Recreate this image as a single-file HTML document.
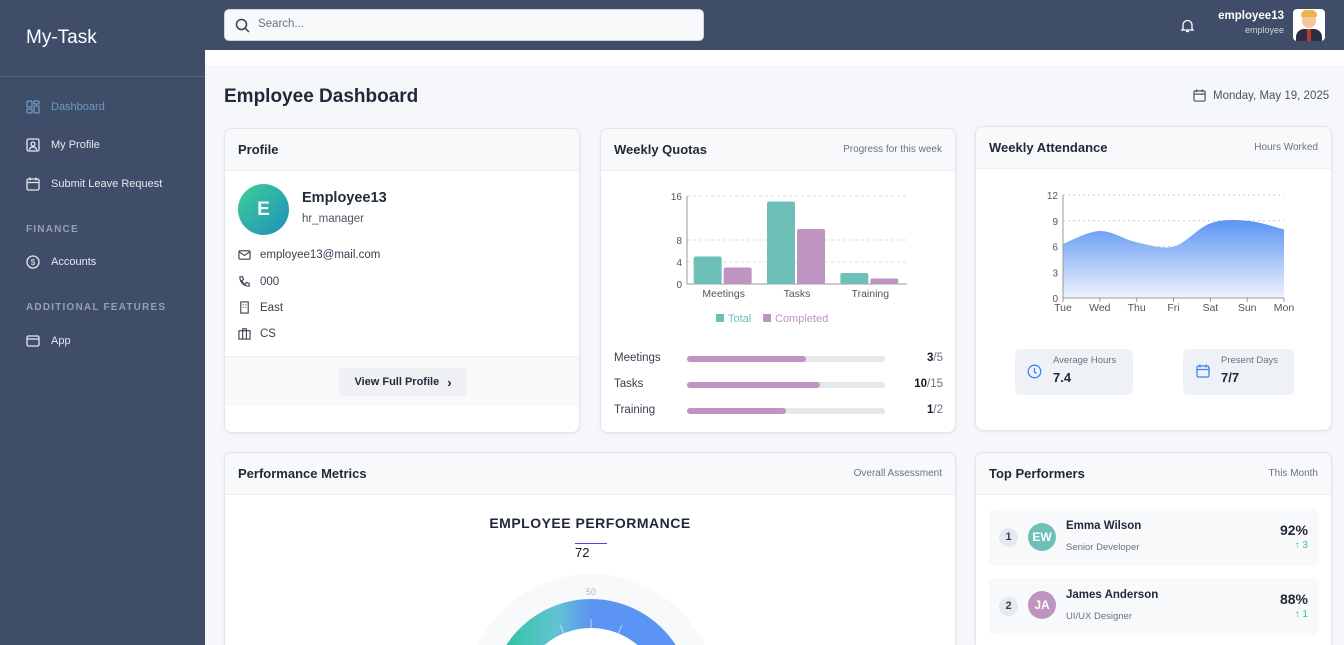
<!DOCTYPE html>
<html style="width:1344px;height:645px;overflow:hidden"><head><meta charset="utf-8">
<style>
*{box-sizing:border-box;margin:0;padding:0}
body{width:1344px;height:645px;overflow:hidden;font-family:"Liberation Sans",sans-serif;background:#f5f7fa;position:relative;color:#1f2937}
.abs{position:absolute}
#sidebar{left:0;top:0;width:205px;height:645px;background:#3f4d68}
#topbar{left:205px;top:0;width:1139px;height:50px;background:#3f4d68}
.nav{position:absolute;left:26px;font-size:11px;color:#e5e9f0;display:flex;align-items:center;gap:11px}
.nav svg{width:14px;height:14px}
.sec{position:absolute;left:26px;font-size:10px;letter-spacing:1.2px;color:#96a0b3;font-weight:bold}
.card{position:absolute;background:#fff;border:1px solid #e2e6ec;border-radius:8px;overflow:hidden;box-shadow:0 1px 3px rgba(0,0,0,.06)}
.ch{height:42px;background:#f8f9fb;border-bottom:1px solid #eceff3;display:flex;justify-content:space-between;align-items:center;padding:0 13px}
.ch b{font-size:13px;color:#1f2937}
.ch span{font-size:10px;color:#6b7280}
.row{position:absolute;left:13px;font-size:11.5px;color:#374151;display:flex;align-items:center;gap:9px}
.qrow{position:absolute;left:13px;width:329px;font-size:11.5px;color:#374151}
.qbar{position:absolute;left:73px;top:4px;width:198px;height:6px;border-radius:3px;background:#e5e7eb}
.qbar i{display:block;height:6px;border-radius:3px;background:#c094c0}
.qv{position:absolute;right:0;top:0;color:#6b7280}
.qv b{color:#111827}
.perf{position:absolute;left:13px;width:330px;height:57px;background:#f8f9fb;border-radius:6px}
</style></head><body>
<div id="sidebar" class="abs">
 <div class="abs" style="left:26px;top:27px;font-size:19px;color:#fff">My-Task</div>
 <div class="abs" style="left:0;top:76px;width:205px;height:1px;background:#55627c"></div>
 <div class="nav" style="top:100px;color:#6b9bc3"><svg viewBox="0 0 14 14" fill="none" stroke="#6b9bc3" stroke-width="1.3"><rect x="1" y="1" width="5" height="6" rx="1"/><rect x="8" y="1" width="5" height="3" rx="1"/><rect x="1" y="9" width="5" height="4" rx="1"/><rect x="8" y="6" width="5" height="7" rx="1"/></svg>Dashboard</div>
 <div class="nav" style="top:138px"><svg viewBox="0 0 14 14" fill="none" stroke="#e5e9f0" stroke-width="1.3"><rect x="1" y="1" width="12" height="12" rx="1.5"/><circle cx="7" cy="6" r="2"/><path d="M3.5 12c0-2 1.5-3 3.5-3s3.5 1 3.5 3"/></svg>My Profile</div>
 <div class="nav" style="top:177px"><svg viewBox="0 0 14 14" fill="none" stroke="#e5e9f0" stroke-width="1.3"><rect x="1" y="2" width="12" height="11" rx="1.5"/><path d="M1 5.5h12M4 0.5v3M10 0.5v3"/></svg>Submit Leave Request</div>
 <div class="sec" style="top:224px">FINANCE</div>
 <div class="nav" style="top:255px"><svg viewBox="0 0 14 14" fill="none" stroke="#e5e9f0" stroke-width="1.3"><circle cx="7" cy="7" r="6"/><text x="7" y="10" font-size="8" text-anchor="middle" fill="#e5e9f0" stroke="none">$</text></svg>Accounts</div>
 <div class="sec" style="top:302px">ADDITIONAL FEATURES</div>
 <div class="nav" style="top:334px"><svg viewBox="0 0 14 14" fill="none" stroke="#e5e9f0" stroke-width="1.3"><rect x="1" y="2" width="12" height="10" rx="1.5"/><path d="M1 5h12"/></svg>App</div>
</div>
<div id="topbar" class="abs">
 <div class="abs" style="left:19px;top:9px;width:480px;height:32px;background:#f8f9fb;border-radius:5px;border:1px solid #d1d5db">
  <svg class="abs" style="left:10px;top:8px" width="15" height="15" viewBox="0 0 15 15" fill="none" stroke="#374151" stroke-width="1.5"><circle cx="6.5" cy="6.5" r="5"/><path d="M10 10l4 4"/></svg>
  <span class="abs" style="left:33px;top:8px;font-size:11.5px;color:#6b7280">Search...</span>
 </div>
 <svg class="abs" style="left:975px;top:18px" width="15" height="15" viewBox="0 0 15 15" fill="none" stroke="#fff" stroke-width="1.3"><path d="M3 11V7a4.5 4.5 0 019 0v4l1 1H2z"/><path d="M6 13.5h3"/></svg>
 <div class="abs" style="right:60px;top:10px;text-align:right;color:#fff"><div style="font-size:11.5px;font-weight:bold">employee13</div><div style="font-size:9px;color:#d1d5db;margin-top:3px">employee</div></div>
 <div class="abs" style="left:1088px;top:9px;width:32px;height:32px;border-radius:4px;background:#fff;overflow:hidden">
  <div class="abs" style="left:9px;top:3px;width:14px;height:16px;border-radius:7px;background:#f2c79b"></div>
  <div class="abs" style="left:8px;top:1px;width:16px;height:7px;border-radius:7px 7px 2px 2px;background:#e9b44c"></div>
  <div class="abs" style="left:3px;top:20px;width:26px;height:12px;border-radius:8px 8px 0 0;background:#2b2f45"></div>
  <div class="abs" style="left:14px;top:20px;width:4px;height:12px;background:#c0392b"></div>
 </div>
</div>
<div class="abs" style="left:205px;top:50px;width:1139px;height:15px;background:#fff"></div>
<div class="abs" style="left:224px;top:86px;font-size:19px;font-weight:bold;color:#1f2937">Employee Dashboard</div>
<div class="abs" style="left:1193px;top:89px;font-size:11.5px;color:#4b5563;display:flex;gap:7px;align-items:center"><svg width="13" height="13" viewBox="0 0 14 14" fill="none" stroke="#4b5563" stroke-width="1.3"><rect x="1" y="2" width="12" height="11" rx="1.5"/><path d="M1 5.5h12M4 0.5v3M10 0.5v3"/></svg>Monday, May 19, 2025</div>

<!-- Profile -->
<div class="card" style="left:224px;top:128px;width:356px;height:305px">
 <div class="ch"><b>Profile</b></div>
 <div class="abs" style="left:13px;top:55px;width:51px;height:51px;border-radius:50%;background:linear-gradient(135deg,#3ecf9a,#1f8fb8);color:#fff;font-size:19px;font-weight:bold;display:flex;align-items:center;justify-content:center">E</div>
 <div class="abs" style="left:77px;top:61px;font-size:14.5px;font-weight:bold">Employee13</div>
 <div class="abs" style="left:77px;top:84px;font-size:11.5px;color:#4b5563">hr_manager</div>
 <div class="row" style="top:119px"><svg width="13" height="13" viewBox="0 0 14 14" fill="none" stroke="#374151" stroke-width="1.2"><rect x="1" y="3" width="12" height="9" rx="1"/><path d="M1 4l6 4 6-4"/></svg>employee13@mail.com</div>
 <div class="row" style="top:146px"><svg width="13" height="13" viewBox="0 0 14 14" fill="none" stroke="#374151" stroke-width="1.2"><path d="M2 2h3l1 3-2 1a8 8 0 004 4l1-2 3 1v3c-6 0-10-4-10-10z"/></svg>000</div>
 <div class="row" style="top:172px"><svg width="13" height="13" viewBox="0 0 14 14" fill="none" stroke="#374151" stroke-width="1.2"><rect x="3" y="1" width="8" height="12"/><path d="M5 4h1M8 4h1M5 7h1M8 7h1"/></svg>East</div>
 <div class="row" style="top:198px"><svg width="13" height="13" viewBox="0 0 14 14" fill="none" stroke="#374151" stroke-width="1.2"><rect x="1" y="4" width="12" height="9"/><path d="M5 4V2h4v2M5 4v9M9 4v9"/></svg>CS</div>
 <div class="abs" style="left:0;top:227px;width:356px;height:50px;background:#f8f9fb;border-top:1px solid #eceff3"></div>
 <div class="abs" style="left:114px;top:239px;width:128px;height:28px;background:#eef0f3;border-radius:4px;font-size:11px;font-weight:bold;color:#1f2937;display:flex;align-items:center;justify-content:center;gap:8px">View Full Profile <span style="font-size:13px">›</span></div>
</div>

<!-- Weekly quotas -->
<div class="card" style="left:600px;top:128px;width:356px;height:305px">
 <div class="ch"><b>Weekly Quotas</b><span>Progress for this week</span></div>
 <svg id="qchart" class="abs" style="left:0;top:0" width="356" height="210"></svg>
 <div class="qrow" style="top:223px">Meetings<div class="qbar"><i style="width:60%"></i></div><span class="qv"><b>3</b>/5</span></div>
 <div class="qrow" style="top:249px">Tasks<div class="qbar"><i style="width:67%"></i></div><span class="qv"><b>10</b>/15</span></div>
 <div class="qrow" style="top:275px">Training<div class="qbar"><i style="width:50%"></i></div><span class="qv"><b>1</b>/2</span></div>
</div>

<!-- Attendance -->
<div class="card" style="left:975px;top:126px;width:357px;height:305px">
 <div class="ch"><b>Weekly Attendance</b><span>Hours Worked</span></div>
 <svg id="achart" class="abs" style="left:0;top:0" width="357" height="200"></svg>
 <div class="abs" style="left:39px;top:222px;width:118px;height:46px;background:#eef2f7;border-radius:5px">
  <svg class="abs" style="left:12px;top:15px" width="15" height="15" viewBox="0 0 15 15" fill="none" stroke="#3b82f6" stroke-width="1.3"><circle cx="7.5" cy="7.5" r="6.3"/><path d="M7.5 4v4l2 1.5"/></svg>
  <div class="abs" style="left:38px;top:6px;font-size:9.5px;color:#6b7280">Average Hours</div>
  <div class="abs" style="left:38px;top:21px;font-size:13px;font-weight:bold">7.4</div>
 </div>
 <div class="abs" style="left:207px;top:222px;width:111px;height:46px;background:#eef2f7;border-radius:5px">
  <svg class="abs" style="left:13px;top:15px" width="14" height="14" viewBox="0 0 14 14" fill="none" stroke="#3b82f6" stroke-width="1.3"><rect x="1" y="2" width="12" height="11" rx="1.5"/><path d="M1 5.5h12M4 0.5v3M10 0.5v3"/></svg>
  <div class="abs" style="left:38px;top:6px;font-size:9.5px;color:#6b7280">Present Days</div>
  <div class="abs" style="left:38px;top:21px;font-size:13px;font-weight:bold">7/7</div>
 </div>
</div>

<!-- Performance -->
<div class="card" style="left:224px;top:452px;width:732px;height:193px;border-bottom:none;border-radius:8px 8px 0 0">
 <div class="ch"><b>Performance Metrics</b><span>Overall Assessment</span></div>
 <div class="abs" style="left:0;top:62px;width:730px;text-align:center;font-size:14px;font-weight:bold;letter-spacing:.5px;color:#1f2937">EMPLOYEE PERFORMANCE</div>
 <div class="abs" style="left:350px;top:90px;width:32px;height:1px;background:#4f46e5"></div>
 <div class="abs" style="left:350px;top:92px;font-size:13px;color:#111827">72</div>
 <svg class="abs" style="left:0;top:0" width="730" height="192">
  <defs><linearGradient id="gg" x1="0" x2="1"><stop offset="0" stop-color="#34c3a5"/><stop offset=".3" stop-color="#62c3d4"/><stop offset=".5" stop-color="#5b94f2"/><stop offset="1" stop-color="#5b94f2"/></linearGradient></defs>
  <path d="M252.6 192 A126 126 0 0 1 479.4 192 Z" fill="#f8f9fb"/>
  <path d="M281.3 192 A101 101 0 0 1 450.7 192 Z" fill="url(#gg)"/>
  <path d="M319.5 192 A72 72 0 0 1 412.5 192 Z" fill="#fff"/>
  <g stroke="#ffffff" stroke-opacity=".6" stroke-width="1">
   <line x1="366" y1="166" x2="366" y2="176"/><line x1="335" y1="172" x2="339" y2="181"/><line x1="397" y1="172" x2="393" y2="181"/>
  </g>
  <text x="366" y="142" font-size="9" fill="#b0b7c3" text-anchor="middle" font-family="Liberation Sans">50</text>
 </svg>
</div>

<!-- Top performers -->
<div class="card" style="left:975px;top:452px;width:357px;height:193px;border-bottom:none;border-radius:8px 8px 0 0">
 <div class="ch"><b>Top Performers</b><span>This Month</span></div>
 <div class="perf" style="top:56px">
  <div class="abs" style="left:10px;top:19px;width:19px;height:19px;border-radius:50%;background:#e5e9f0;font-size:11px;font-weight:bold;color:#374151;text-align:center;line-height:19px">1</div>
  <div class="abs" style="left:39px;top:14px;width:28px;height:28px;border-radius:50%;background:#6dbfb8;color:#fff;font-size:12px;font-weight:bold;text-align:center;line-height:28px">EW</div>
  <div class="abs" style="left:77px;top:11px;font-size:11.5px;font-weight:bold">Emma Wilson</div>
  <div class="abs" style="left:77px;top:33px;font-size:9.5px;color:#6b7280">Senior Developer</div>
  <div class="abs" style="right:11px;top:13px;font-size:14px;font-weight:bold">92%</div>
  <div class="abs" style="right:11px;top:31px;font-size:10px;color:#34c38f">↑ 3</div>
 </div>
 <div class="perf" style="top:125px">
  <div class="abs" style="left:10px;top:19px;width:19px;height:19px;border-radius:50%;background:#e5e9f0;font-size:11px;font-weight:bold;color:#374151;text-align:center;line-height:19px">2</div>
  <div class="abs" style="left:39px;top:13px;width:28px;height:28px;border-radius:50%;background:#c094c0;color:#fff;font-size:12px;font-weight:bold;text-align:center;line-height:28px">JA</div>
  <div class="abs" style="left:77px;top:11px;font-size:11.5px;font-weight:bold">James Anderson</div>
  <div class="abs" style="left:77px;top:33px;font-size:9.5px;color:#6b7280">UI/UX Designer</div>
  <div class="abs" style="right:11px;top:13px;font-size:14px;font-weight:bold">88%</div>
  <div class="abs" style="right:11px;top:31px;font-size:10px;color:#34c38f">↑ 1</div>
 </div>
</div>

<script>
const NS="http://www.w3.org/2000/svg";
const quotaCategories=["Meetings","Tasks","Training"];
const quotaTotal=[5,15,2];
const quotaCompleted=[3,10,1];
const quotaTicks=[0,4,8,16];
const attDays=["Tue","Wed","Thu","Fri","Sat","Sun","Mon"];
const attHours=[6.3,7.8,6.5,6.0,8.7,9.0,8.0];
const attTicks=[0,3,6,9,12];

function mk(p,tag,attrs,txt){const e=document.createElementNS(NS,tag);for(const k in attrs)e.setAttribute(k,attrs[k]);if(txt!==undefined)e.textContent=txt;p.appendChild(e);return e;}

(function(){
 const s=document.getElementById('qchart');
 const x0=86,x1=306,yb=155,yt=67,max=16;
 const y=v=>yb-(v/max)*(yb-yt);
 const band=(x1-x0)/quotaCategories.length;
 quotaTicks.forEach(t=>{
  if(t>0)mk(s,'line',{x1:x0,x2:x1,y1:y(t),y2:y(t),stroke:'#ddd','stroke-dasharray':'3 3'});
  mk(s,'text',{x:x0-5,y:y(t)+4,'font-size':10,'text-anchor':'end',fill:'#555','font-family':'Liberation Sans'},t);
 });
 mk(s,'line',{x1:x0,x2:x0,y1:yt,y2:yb,stroke:'#999'});
 mk(s,'line',{x1:x0,x2:x1,y1:yb,y2:yb,stroke:'#999'});
 quotaCategories.forEach((c,i)=>{
  const cx=x0+band*(i+0.5);
  const b1=mk(s,'rect',{x:cx-30,y:y(quotaTotal[i]),width:28,height:yb-y(quotaTotal[i]),fill:'#6dbfb8',rx:2});
  
  
  const b2=mk(s,'rect',{x:cx,y:y(quotaCompleted[i]),width:28,height:yb-y(quotaCompleted[i]),fill:'#c094c0',rx:2});
  
  
  mk(s,'text',{x:cx,y:yb+13,'font-size':10.5,'text-anchor':'middle',fill:'#555','font-family':'Liberation Sans'},c);
 });
 mk(s,'rect',{x:115,y:185,width:8,height:8,fill:'#6dbfb8'});
 mk(s,'text',{x:127,y:193,'font-size':11,fill:'#6dbfb8','font-family':'Liberation Sans'},'Total');
 mk(s,'rect',{x:162,y:185,width:8,height:8,fill:'#c094c0'});
 mk(s,'text',{x:174,y:193,'font-size':11,fill:'#c094c0','font-family':'Liberation Sans'},'Completed');
})();

(function(){
 const s=document.getElementById('achart');
 const x0=87,x1=308,yb=171,yt=68,max=12;
 const y=v=>yb-(v/max)*(yb-yt);
 const x=i=>x0+i*(x1-x0)/(attDays.length-1);
 const defs=mk(s,'defs',{});
 const g=mk(defs,'linearGradient',{id:'ag',x1:0,x2:0,y1:0,y2:1});
 mk(g,'stop',{offset:0,'stop-color':'#5b94f2'});
 mk(g,'stop',{offset:1,'stop-color':'#eef3fe'});
 attTicks.forEach(t=>{
  if(t>0)mk(s,'line',{x1:x0,x2:x1,y1:y(t),y2:y(t),stroke:'#ccc','stroke-dasharray':'2 3'});
  mk(s,'text',{x:x0-5,y:y(t)+4,'font-size':10,'text-anchor':'end',fill:'#555','font-family':'Liberation Sans'},t);
 });
 const pts=attHours.map((v,i)=>[x(i),y(v)]);
 let d='M'+pts[0][0]+','+pts[0][1];
 for(let i=0;i<pts.length-1;i++){
  const p0=pts[Math.max(0,i-1)],p1=pts[i],p2=pts[i+1],p3=pts[Math.min(pts.length-1,i+2)];
  const c1=[p1[0]+(p2[0]-p0[0])/6,p1[1]+(p2[1]-p0[1])/6],c2=[p2[0]-(p3[0]-p1[0])/6,p2[1]-(p3[1]-p1[1])/6];
  d+=' C'+c1+' '+c2+' '+p2;
 }
 const area=mk(s,'path',{d:d+' L'+x1+','+yb+' L'+x0+','+yb+' Z',fill:'url(#ag)'});
 
 
 mk(s,'line',{x1:x0,x2:x0,y1:yt,y2:yb,stroke:'#999'});
 mk(s,'line',{x1:x0,x2:x1,y1:yb,y2:yb,stroke:'#999'});
 attDays.forEach((dn,i)=>{
  mk(s,'line',{x1:x(i),x2:x(i),y1:yb,y2:yb+4,stroke:'#999'});
  mk(s,'text',{x:x(i),y:yb+13,'font-size':10.5,'text-anchor':'middle',fill:'#555','font-family':'Liberation Sans'},dn);
 });
})();
</script>
</body></html>
